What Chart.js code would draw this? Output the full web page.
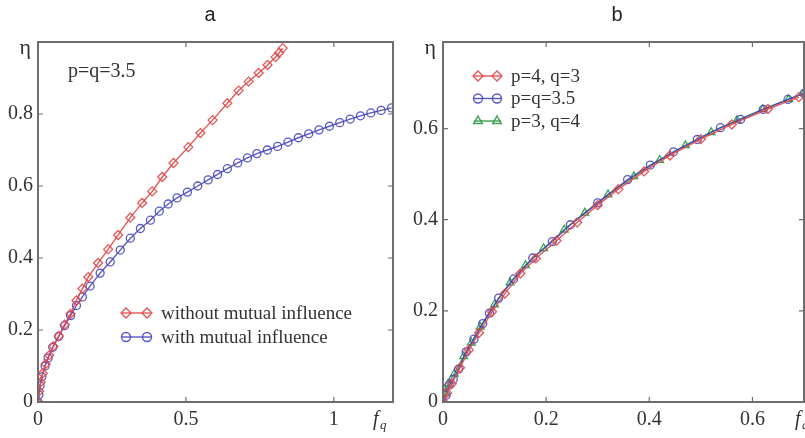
<!DOCTYPE html>
<html>
<head>
<meta charset="utf-8">
<script src="https://cdn.jsdelivr.net/npm/chart.js@4.4.1/dist/chart.umd.min.js"></script>
<style>
  html, body { margin: 0; padding: 0; background: #fff; overflow: hidden; width: 805px; height: 438px; }
  canvas { position: absolute; top: 0; }
  #chartA { left: 0; }
  #chartB { left: 400px; }
</style>
</head>
<body>
<canvas id="chartA" width="400" height="438"></canvas>
<canvas id="chartB" width="410" height="438"></canvas>
<script>
// panel a - p=q=3.5
const aWithoutX = [0, 0.004, 0.009, 0.016, 0.026, 0.038, 0.052, 0.07, 0.09, 0.11, 0.13, 0.15, 0.17, 0.203, 0.237, 0.271, 0.312, 0.352, 0.386, 0.42, 0.458, 0.508, 0.549, 0.59, 0.64, 0.678, 0.712, 0.746, 0.776, 0.803, 0.815, 0.827];
const aWithoutY = [0, 0.03, 0.055, 0.08, 0.106, 0.13, 0.155, 0.183, 0.215, 0.245, 0.282, 0.315, 0.347, 0.386, 0.424, 0.464, 0.512, 0.553, 0.585, 0.625, 0.664, 0.708, 0.747, 0.783, 0.83, 0.865, 0.89, 0.914, 0.936, 0.958, 0.97, 0.983];
const aWithX = [0, 0.003, 0.007, 0.013, 0.024, 0.034, 0.05, 0.07, 0.09, 0.11, 0.13, 0.15, 0.176, 0.21, 0.244, 0.278, 0.312, 0.346, 0.38, 0.41, 0.44, 0.47, 0.505, 0.54, 0.575, 0.607, 0.64, 0.675, 0.708, 0.74, 0.775, 0.81, 0.845, 0.88, 0.915, 0.95, 0.985, 1.02, 1.055, 1.09, 1.125, 1.16, 1.195];
const aWithY = [0, 0.02, 0.045, 0.07, 0.1, 0.122, 0.152, 0.182, 0.212, 0.24, 0.268, 0.292, 0.322, 0.358, 0.389, 0.422, 0.455, 0.482, 0.505, 0.53, 0.55, 0.567, 0.583, 0.6, 0.617, 0.632, 0.648, 0.664, 0.678, 0.69, 0.7, 0.71, 0.722, 0.734, 0.745, 0.756, 0.766, 0.776, 0.786, 0.795, 0.803, 0.81, 0.817];
const aLabels = ['without mutual influence', 'with mutual influence'];
const aXTicks = [0, 0.5, 1];
const aYTicks = [0, 0.2, 0.4, 0.6, 0.8];

// panel b - three p,q combinations
const bRedX = [0, 0.008, 0.017, 0.033, 0.05, 0.07, 0.095, 0.12, 0.15, 0.18, 0.22, 0.26, 0.3, 0.34, 0.39, 0.44, 0.5, 0.56, 0.63, 0.69];
const bRedY = [0, 0.02, 0.04, 0.075, 0.114, 0.152, 0.198, 0.238, 0.282, 0.315, 0.354, 0.394, 0.432, 0.467, 0.506, 0.541, 0.577, 0.609, 0.643, 0.669];
const bBlueX = [0, 0.006, 0.012, 0.02, 0.03, 0.045, 0.06, 0.077, 0.09, 0.108, 0.137, 0.174, 0.212, 0.247, 0.3, 0.358, 0.402, 0.447, 0.493, 0.538, 0.577, 0.621, 0.669, 0.7];
const bBlueY = [0, 0.015, 0.037, 0.05, 0.072, 0.11, 0.138, 0.172, 0.195, 0.228, 0.27, 0.316, 0.352, 0.389, 0.437, 0.488, 0.52, 0.549, 0.576, 0.602, 0.62, 0.642, 0.664, 0.677];
const bGreenX = [0, 0.004, 0.01, 0.022, 0.04, 0.055, 0.072, 0.1, 0.13, 0.16, 0.195, 0.235, 0.275, 0.32, 0.37, 0.42, 0.47, 0.52, 0.57, 0.62, 0.67, 0.7];
const bGreenY = [0, 0.02, 0.04, 0.062, 0.1, 0.13, 0.165, 0.214, 0.262, 0.3, 0.337, 0.378, 0.415, 0.455, 0.495, 0.531, 0.563, 0.592, 0.618, 0.642, 0.664, 0.678];
const bLabels = ['p=4, q=3', 'p=q=3.5', 'p=3, q=4'];
const bXTicks = [0, 0.2, 0.4, 0.6];
const bYTicks = [0, 0.2, 0.4, 0.6];

const RED = 'rgba(225, 70, 70, 0.9)';
const BLUE = 'rgba(70, 70, 190, 0.9)';
const GREEN = 'rgba(40, 150, 60, 0.9)';
const AXIS = '#6e6e6e';
const SERIF = "'Liberation Serif', 'DejaVu Serif', serif";

function zip(xs, ys) {
  return xs.map((x, i) => ({ x: x, y: ys[i] }));
}

function series(label, xs, ys, color, style, radius) {
  return {
    label: label,
    data: zip(xs, ys),
    borderColor: color,
    backgroundColor: 'rgba(255,255,255,0)',
    borderWidth: 1.4,
    pointStyle: style,
    pointRadius: radius,
    pointBorderWidth: 1.3,
    pointBorderColor: color,
    pointBackgroundColor: 'rgba(255,255,255,0)',
    tension: 0
  };
}

// MATLAB-like box, inward ticks on all four sides, and the text bits
const matlabFrame = {
  id: 'matlabFrame',
  afterDraw(chart, args, opts) {
    const ctx = chart.ctx;
    const a = chart.chartArea;
    const xs = chart.scales.x, ys = chart.scales.y;
    ctx.save();
    ctx.strokeStyle = AXIS;
    ctx.lineWidth = 2;
    ctx.strokeRect(a.left, a.top, a.right - a.left, a.bottom - a.top);
    ctx.lineWidth = 1.2;
    ctx.beginPath();
    xs.ticks.forEach(t => {
      const px = xs.getPixelForValue(t.value);
      ctx.moveTo(px, a.bottom); ctx.lineTo(px, a.bottom - 5);
      ctx.moveTo(px, a.top); ctx.lineTo(px, a.top + 5);
    });
    ys.ticks.forEach(t => {
      const py = ys.getPixelForValue(t.value);
      ctx.moveTo(a.left, py); ctx.lineTo(a.left + 5, py);
      ctx.moveTo(a.right, py); ctx.lineTo(a.right - 5, py);
    });
    ctx.stroke();

    // panel letter
    ctx.fillStyle = '#222';
    ctx.font = "20px 'Liberation Sans', Arial, sans-serif";
    ctx.textAlign = 'center';
    ctx.textBaseline = 'middle';
    ctx.fillText(opts.title, opts.titleX, 15);

    // eta and f_q axis names
    ctx.fillStyle = '#333';
    ctx.font = '22px ' + SERIF;
    ctx.textAlign = 'right';
    ctx.fillText('η', a.left - 7, a.top + 6);
    ctx.font = 'italic 20px ' + SERIF;
    ctx.textAlign = 'left';
    ctx.fillText('f', opts.fqX, 420);
    ctx.font = 'italic 13px ' + SERIF;
    ctx.fillText('q', opts.fqX + 7, 426);

    if (opts.note) {
      ctx.font = '20px ' + SERIF;
      ctx.fillText(opts.note, a.left + 30, 72);
    }

    // legend inside the axes
    const lg = opts.legend;
    chart.data.datasets.forEach((ds, i) => {
      const y = lg.y + i * lg.dy;
      const x0 = lg.x;
      ctx.strokeStyle = ds.borderColor;
      ctx.lineWidth = 1.4;
      ctx.beginPath();
      ctx.moveTo(x0, y); ctx.lineTo(x0 + lg.span, y);
      ctx.stroke();
      ctx.fillStyle = 'rgba(255,255,255,0)';
      [x0 + 4, x0 + lg.span - 4].forEach(px => {
        Chart.helpers.drawPoint(ctx, { pointStyle: ds.pointStyle, radius: ds.pointRadius + 0.5, rotation: 0, borderWidth: 1.3 }, px, y);
      });
      ctx.fillStyle = '#333';
      ctx.font = lg.font + 'px ' + SERIF;
      ctx.textAlign = 'left';
      ctx.textBaseline = 'middle';
      ctx.fillText(ds.label, x0 + lg.span + 10, y + 1);
    });
    ctx.restore();
  }
};

function axisOptions(min, max, tickList, fixSize, isX) {
  return {
    type: 'linear',
    min: min,
    max: max,
    grid: { display: false, drawTicks: false },
    border: { display: false },
    afterBuildTicks: scale => { scale.ticks = tickList.map(v => ({ value: v })); },
    afterFit: scale => { if (isX) scale.height = fixSize; else scale.width = fixSize; },
    ticks: {
      padding: isX ? 6 : 5,
      color: '#333',
      font: { family: SERIF, size: 20 },
      callback: v => String(+v.toFixed(2))
    }
  };
}

function baseOptions(xMin, xMax, xTicks, yMax, yTicks, yWidth, padRight, frameOpts) {
  return {
    responsive: false,
    animation: false,
    devicePixelRatio: 1,
    layout: { padding: { top: 42, right: padRight, left: 0, bottom: 0 } },
    plugins: {
      legend: { display: false },
      tooltip: { enabled: false },
      title: { display: false },
      matlabFrame: frameOpts
    },
    scales: {
      x: axisOptions(xMin, xMax, xTicks, 36, true),
      y: axisOptions(0, yMax, yTicks, yWidth, false)
    }
  };
}

new Chart(document.getElementById('chartA'), {
  type: 'line',
  data: {
    datasets: [
      series(aLabels[0], aWithoutX, aWithoutY, RED, 'rectRot', 4.5),
      series(aLabels[1], aWithX, aWithY, BLUE, 'circle', 4)
    ]
  },
  options: baseOptions(0, 1.2, aXTicks, 1, aYTicks, 38, 7, {
    title: 'a', titleX: 210, fqX: 373, note: 'p=q=3.5',
    legend: { x: 122, y: 313, dy: 24, font: 19, span: 29 }
  }),
  plugins: [matlabFrame]
});

new Chart(document.getElementById('chartB'), {
  type: 'line',
  data: {
    datasets: [
      series(bLabels[0], bRedX, bRedY, RED, 'rectRot', 4.5),
      series(bLabels[1], bBlueX, bBlueY, BLUE, 'circle', 4),
      series(bLabels[2], bGreenX, bGreenY, GREEN, 'triangle', 4.5)
    ]
  },
  options: baseOptions(0, 0.7, bXTicks, 0.79, bYTicks, 43, 6, {
    title: 'b', titleX: 217, fqX: 395, note: null,
    legend: { x: 74, y: 76, dy: 22.5, font: 19, span: 27 }
  }),
  plugins: [matlabFrame]
});
</script>
</body>
</html>
